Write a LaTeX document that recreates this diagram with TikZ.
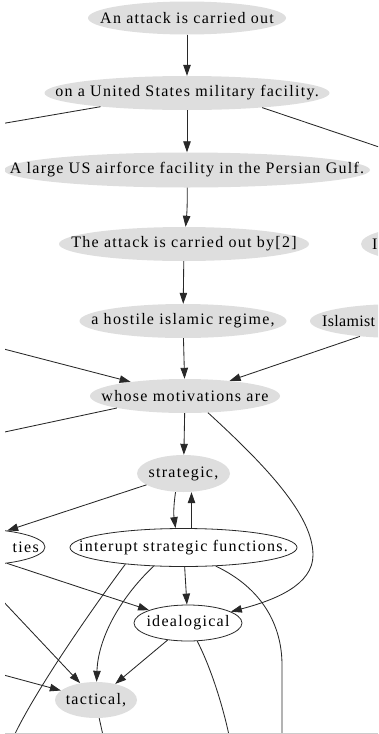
\documentclass[tikz,border=0pt]{standalone}
\usepackage{fontspec}
\setmainfont[LetterSpace=8]{Liberation Serif}
\newfontfamily\tightserif[LetterSpace=2]{Liberation Serif}
\usetikzlibrary{shapes.geometric,arrows.meta}
\definecolor{nodegray}{HTML}{DEDEDE}
\definecolor{edgec}{HTML}{282828}
\begin{document}
\begin{tikzpicture}[x=1pt,y=-1pt,
  txt/.style={font=\fontsize{16}{19}\selectfont, text=black, inner sep=0pt},
  filled/.style n args={2}{ellipse, fill=nodegray, draw=none, minimum width=#1, minimum height=#2, inner sep=0pt},
  outl/.style n args={2}{ellipse, fill=white, draw=edgec, line width=0.8pt, minimum width=#1, minimum height=#2, inner sep=0pt},
  edge/.style={draw=edgec, line width=0.85pt},
  arr/.style={edge, -{Triangle[length=11pt,width=7.5pt]}},
]
\useasboundingbox (0,0) rectangle (378,734);
\begin{scope}
\clip (5,0) rectangle (378,733);
% nodes
\node[filled={198}{33}, label={[txt]center:An attack is carried out}] (n1) at (187,18) {};
\node[filled={285}{34}, label={[txt]center:on a United States military facility.}] (n2) at (187,93) {};
\node[filled={366}{35}, label={[txt]center:A large US airforce facility in the Persian Gulf.}] (n3) at (187,170) {};
\node[filled={250}{34}, label={[txt]center:The attack is carried out by[2]}] (n4) at (184,244) {};
\node[filled={120}{34}] (n5) at (421,244) {};
\node[txt, anchor=west] (n5t) at (372,244) {I};
\node[filled={207}{34}, label={[txt]center:a hostile islamic regime,}] (n6) at (183,321) {};
\node[filled={180}{34}] (n7) at (400,321) {};
\node[txt, font=\tightserif\fontsize{16}{19}\selectfont, anchor=west] (n7t) at (322,321) {Islamist};
\node[filled={190}{34}, label={[txt]center:whose motivations are}] (n8) at (185,396) {};
\node[filled={93}{37}, label={[txt]center:strategic,}] (n9) at (183.5,473.5) {};
\node[outl={140}{36}] (ties) at (-25,547) {};
\node[txt, anchor=east] (tiest) at (39,547) {ties};
\node[outl={227}{38}, label={[txt]center:interupt strategic functions.}] (n11) at (183.5,547.5) {};
\node[outl={108}{36}, label={[txt]center:idealogical}] (n12) at (188,623) {};
\node[filled={82}{36}, label={[txt]center:tactical,}] (tac) at (96,700) {};
% free ends
\coordinate (L1) at (0,124);
\coordinate (R1) at (382,148);
\coordinate (L2) at (0,348);
\coordinate (L3) at (0,433);
\coordinate (L4) at (0,598);
\coordinate (L5) at (0,674);
\coordinate (B1) at (12,740);
\coordinate (B2) at (282,740);
\coordinate (B3) at (230,740);
\coordinate (B4) at (104,740);
% edges
\draw[arr] (n1) -- (n2);
\draw[edge] (n2.189) -- (L1);
\draw[edge] (n2.349) -- (R1);
\draw[arr] (n2) -- (n3);
\draw[arr] (n3) to[bend left=3] (n4);
\draw[arr] (n4) -- (n6);
\draw[arr] (n6) -- (n8);
\draw[arr] (L2) -- (n8);
\draw[arr] (n7.201) -- (n8);
\draw[edge] (n8.190) -- (L3);
\draw[arr] (n8) -- (n9);
\draw[arr] (n8.-36) .. controls (265,465) and (313,515) .. (313,555) .. controls (313,585) and (275,600) .. (n12);
\draw[arr] (n9.197) -- (ties.27);
\draw[arr] ([xshift=-8pt]n9.south) to[bend right=8] ([xshift=-8pt]n11.north);
\draw[arr] ([xshift=8pt]n11.north) -- ([xshift=8pt]n9.south);
\draw[arr] (n11.212) .. controls (118,600) and (98,640) .. (tac);
\draw[edge] (n11.196) .. controls (95,605) and (35,690) .. (B1);
\draw[arr] (n11) -- (n12);
\draw[edge] (n11.-30) .. controls (262,588) and (282,625) .. (282,665) -- (B2);
\draw[arr] (ties.-27) -- (n12);
\draw[arr] (L4) -- (tac);
\draw[arr] (L5) -- (tac);
\draw[arr] (n12) -- (tac);
\draw[edge] (n12.-63) .. controls (212,670) and (224,710) .. (B3);
\draw[edge] (tac.-80) -- (B4);
\end{scope}
\draw[gray!40, line width=0.8pt] (5,733) -- (378,733);
\end{tikzpicture}
\end{document}
